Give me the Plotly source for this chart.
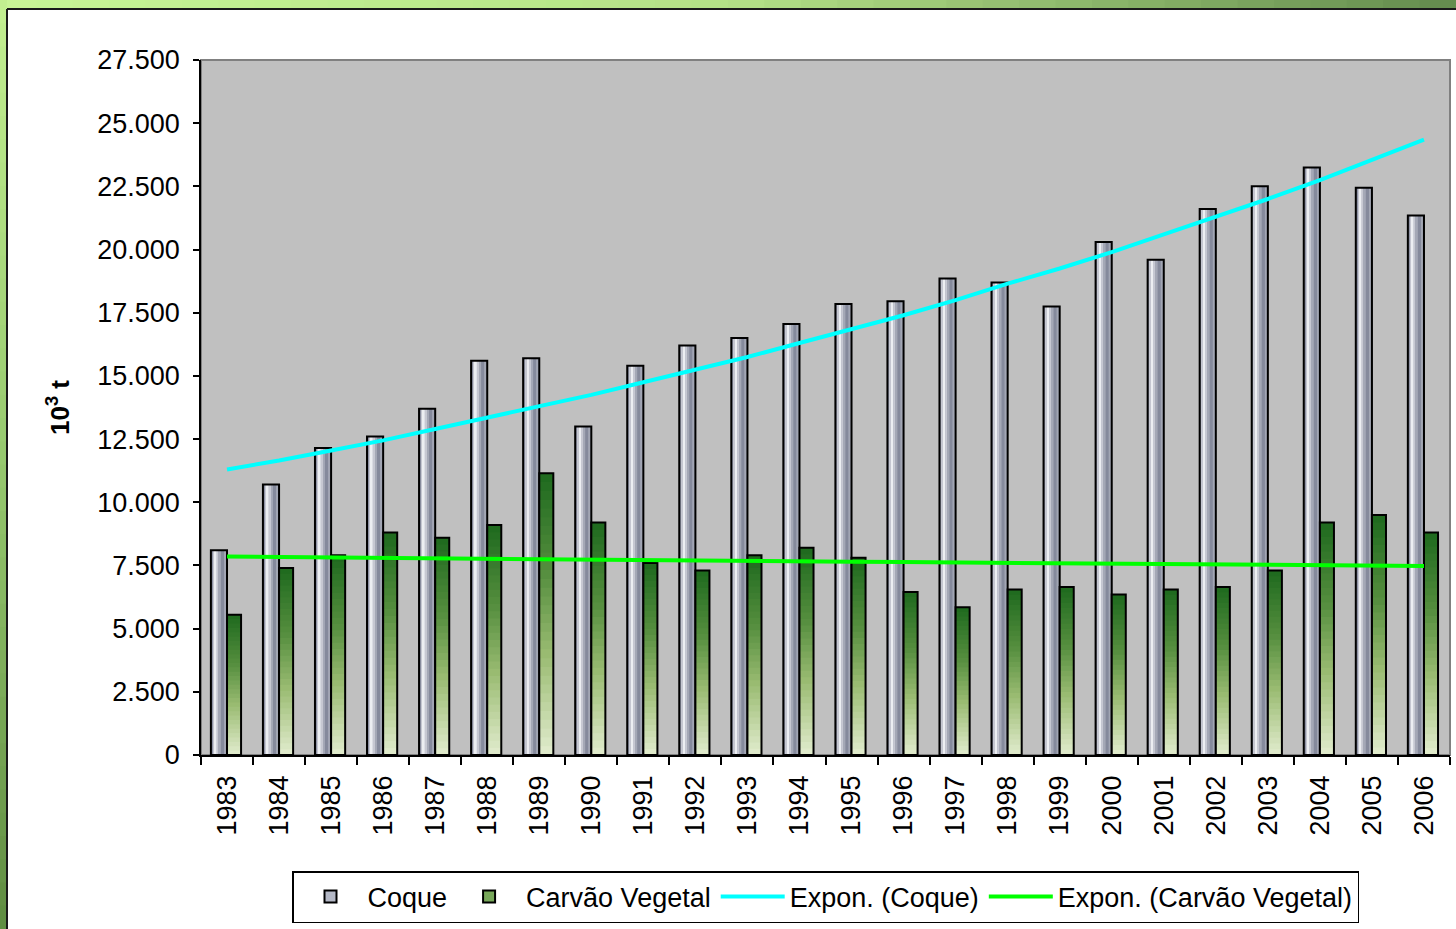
import plotly.graph_objects as go

# ---------------- data ----------------
years = ["1983", "1984", "1985", "1986", "1987", "1988", "1989", "1990",
         "1991", "1992", "1993", "1994", "1995", "1996", "1997", "1998",
         "1999", "2000", "2001", "2002", "2003", "2004", "2005", "2006"]

coque = [8100, 10700, 12150, 12600, 13700, 15600, 15700, 13000,
         15400, 16200, 16500, 17050, 17850, 17950, 18850, 18700,
         17750, 20300, 19600, 21600, 22500, 23250, 22450, 21350]

carvao = [5550, 7400, 7900, 8800, 8600, 9100, 11150, 9200,
          7600, 7300, 7900, 8200, 7800, 6450, 5850, 6550,
          6650, 6350, 6550, 6650, 7300, 9200, 9500, 8800]

trend_coque = [11300, 11650, 12050, 12450, 12900, 13350, 13800, 14250,
               14750, 15250, 15750, 16300, 16850, 17400, 18000, 18650,
               19250, 19900, 20600, 21300, 22000, 22750, 23550, 24350]

trend_carvao = [7850, 7830, 7815, 7800, 7780, 7765, 7750, 7730,
                7715, 7700, 7685, 7665, 7650, 7635, 7620, 7600,
                7585, 7570, 7555, 7540, 7525, 7510, 7495, 7480]

y_ticks = [0, 2500, 5000, 7500, 10000, 12500, 15000, 17500, 20000, 22500, 25000, 27500]
y_ticktext = ["0", "2.500", "5.000", "7.500", "10.000", "12.500", "15.000",
              "17.500", "20.000", "22.500", "25.000", "27.500"]

names = ["Coque", "Carvão Vegetal", "Expon. (Coque)", "Expon. (Carvão Vegetal)"]

# ---------------- geometry / style ----------------
W, H = 1456, 929
ML, MR, MT, MB = 201, 6, 60, 174
PW, PH = W - ML - MR, H - MT - MB
FONT = "Liberation Sans, Arial, sans-serif"
FS = 27

def px2x(px):
    return (px - ML) / PW

def py2y(py):
    return (H - MB - py) / PH

def lerp_color(stops, t):
    for (t0, c0), (t1, c1) in zip(stops[:-1], stops[1:]):
        if t0 <= t <= t1:
            f = (t - t0) / (t1 - t0) if t1 > t0 else 0
            c = [round(a + (b - a) * f) for a, b in zip(c0, c1)]
            return "rgb(%d,%d,%d)" % tuple(c)
    c = stops[-1][1]
    return "rgb(%d,%d,%d)" % tuple(c)

fig = go.Figure()

# legend-only entries (bar series)
fig.add_trace(go.Bar(x=[None], y=[None], name=names[0],
                     marker=dict(color="#b4b8c6", line=dict(color="black", width=2)),
                     legendrank=1, hoverinfo="skip"))
fig.add_trace(go.Bar(x=[None], y=[None], name=names[1],
                     marker=dict(color="#78a85a", line=dict(color="black", width=2)),
                     legendrank=2, hoverinfo="skip"))

# Coque bars: cylinder-like horizontal shading
C_OFF, C_W = -0.31, 0.31
fig.add_trace(go.Bar(x=years, y=coque, offset=C_OFF, width=C_W,
                     marker=dict(color="#a4a8b8", line=dict(width=0)),
                     showlegend=False, hoverinfo="skip"))
stripes = [
    (0.00, 0.14, "#8e92a4"),
    (0.14, 0.24, "#c4c6d0"),
    (0.24, 0.36, "#eceef2"),
    (0.36, 0.50, "#c6c8d2"),
    (0.50, 0.62, "#a4a8b6"),
    (0.62, 0.82, "#858a9c"),
    (0.82, 1.00, "#a2a6b4"),
]
for a, b, col in stripes:
    fig.add_trace(go.Bar(x=years, y=coque, offset=C_OFF + a * C_W, width=(b - a) * C_W,
                         marker=dict(color=col, line=dict(width=0)),
                         showlegend=False, hoverinfo="skip"))
fig.add_trace(go.Bar(x=years, y=coque, offset=C_OFF, width=C_W,
                     marker=dict(color="rgba(0,0,0,0)", line=dict(color="black", width=2)),
                     showlegend=False, hoverinfo="skip"))

# Carvão Vegetal bars: vertical shading dark top -> light bottom
V_OFF, V_W = 0.0, 0.27
green_stops = [(0.0, (30, 105, 30)), (0.35, (85, 142, 62)),
               (0.65, (155, 188, 115)), (1.0, (226, 236, 206))]
N = 32
for i in range(N):
    frac = 1 - i / N
    fig.add_trace(go.Bar(x=years, y=[v * frac for v in carvao], offset=V_OFF, width=V_W,
                         marker=dict(color=lerp_color(green_stops, (i + 0.5) / N), line=dict(width=0)),
                         showlegend=False, hoverinfo="skip"))
fig.add_trace(go.Bar(x=years, y=carvao, offset=V_OFF, width=V_W,
                     marker=dict(color="rgba(0,0,0,0)", line=dict(color="black", width=2)),
                     showlegend=False, hoverinfo="skip"))

# Exponential trend lines
fig.add_trace(go.Scatter(x=years, y=trend_coque, mode="lines", name=names[2],
                         line=dict(color="#00ffff", width=4), legendrank=3, hoverinfo="skip"))
fig.add_trace(go.Scatter(x=years, y=trend_carvao, mode="lines", name=names[3],
                         line=dict(color="#00ff00", width=4), legendrank=4, hoverinfo="skip"))

# ---------------- decorative frame ----------------
shapes = []
nseg = 40
top_stops = [(0.0, (200, 245, 150)), (0.5, (180, 225, 135)), (1.0, (100, 140, 78))]
for k in range(nseg):
    x0 = k * W / nseg
    x1 = (k + 1) * W / nseg + 1
    shapes.append(dict(type="rect", xref="paper", yref="paper", layer="below",
                       x0=px2x(x0), x1=px2x(x1), y0=py2y(9), y1=py2y(0),
                       fillcolor=lerp_color(top_stops, (k + 0.5) / nseg), line=dict(width=0)))
left_stops = [(0.0, (195, 240, 145)), (0.5, (150, 200, 110)), (1.0, (95, 140, 65))]
for k in range(nseg):
    y0 = k * H / nseg
    y1 = (k + 1) * H / nseg + 1
    shapes.append(dict(type="rect", xref="paper", yref="paper", layer="below",
                       x0=px2x(0), x1=px2x(7), y0=py2y(y1), y1=py2y(y0),
                       fillcolor=lerp_color(left_stops, (k + 0.5) / nseg), line=dict(width=0)))
shapes.append(dict(type="line", xref="paper", yref="paper", layer="below",
                   x0=px2x(7), x1=px2x(W), y0=py2y(9), y1=py2y(9),
                   line=dict(color="#1a1a1a", width=2)))
shapes.append(dict(type="line", xref="paper", yref="paper", layer="below",
                   x0=px2x(7), x1=px2x(7), y0=py2y(9), y1=py2y(H),
                   line=dict(color="#1a1a1a", width=2)))
# plot-area border (grey top/right)
shapes.append(dict(type="rect", xref="paper", yref="paper", layer="below",
                   x0=0, x1=1, y0=0, y1=1, line=dict(color="#808080", width=2)))

fig.update_layout(
    width=W, height=H,
    margin=dict(l=ML, r=MR, t=MT, b=MB, autoexpand=False),
    paper_bgcolor="white",
    plot_bgcolor="#c0c0c0",
    barmode="overlay",
    font=dict(family=FONT, size=FS, color="black"),
    shapes=shapes,
    showlegend=True,
    legend=dict(orientation="h", x=0.5, xanchor="center", y=py2y(871), yanchor="top",
                bgcolor="white", bordercolor="black", borderwidth=1.5,
                font=dict(family=FONT, size=FS, color="black"),
                itemwidth=64, tracegroupgap=0, traceorder="normal"),
    xaxis=dict(type="category", showgrid=False, showline=True, linecolor="black", linewidth=1.5,
               ticks="outside", tickson="boundaries", ticklen=8, tickcolor="black", tickwidth=1.5,
               tickangle=-90, tickfont=dict(family=FONT, size=FS), ticklabelstandoff=8,
               range=[-0.5, len(years) - 0.5], zeroline=False, fixedrange=True),
    yaxis=dict(range=[0, 27500], tickvals=y_ticks, ticktext=y_ticktext, showgrid=False,
               showline=True, linecolor="black", linewidth=1.5, ticks="outside", ticklen=6,
               tickcolor="black", tickwidth=1.5, tickfont=dict(family=FONT, size=FS),
               ticklabelstandoff=8, zeroline=False, fixedrange=True,
               title=dict(text="<b>10<sup>3</sup> t</b>", font=dict(family=FONT, size=26),
                          standoff=20)),
)

fig.write_html("out.html", config={"displayModeBar": False},
               post_script="document.body.style.margin='0';document.body.style.padding='0';")
